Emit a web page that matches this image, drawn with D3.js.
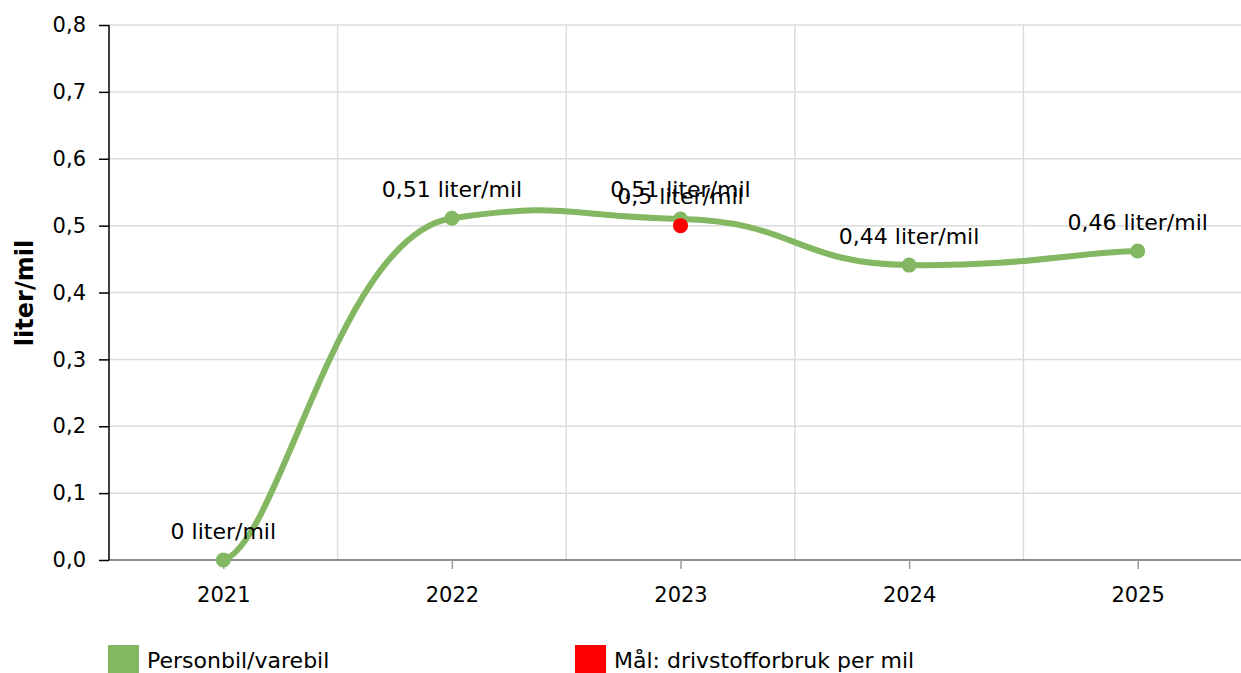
<!DOCTYPE html>
<html>
<head>
<meta charset="utf-8">
<script src="https://cdn.jsdelivr.net/npm/d3@7/dist/d3.min.js"></script>
<style>
  html, body { margin: 0; padding: 0; background: #fff; }
  svg { display: block; font-family: Verdana, "DejaVu Sans", sans-serif; }
</style>
</head>
<body>
<svg id="chart" width="1241" height="673"></svg>
<script>
// ---- data ----
const years = ["2021", "2022", "2023", "2024", "2025"];
const fuelValues = [0, 0.511, 0.51, 0.441, 0.462];
const fuelLabels = ["0 liter/mil", "0,51 liter/mil", "0,51 liter/mil", "0,44 liter/mil", "0,46 liter/mil"];
const targetYears = ["2023"];
const targetValues = [0.5];
const targetLabels = ["0,5 liter/mil"];
const yTicks = [0, 0.1, 0.2, 0.3, 0.4, 0.5, 0.6, 0.7, 0.8];
const seriesNames = ["Personbil/varebil", "Mål: drivstofforbruk per mil"];
const seriesColors = ["#84b761", "#ff0000"];

(function () {
// ---- layout ----
const W = 1241, H = 673;
const mLeft = 109, mRight = 1252, mTop = 25, mBottom = 560;
const svg = d3.select("#chart");

const x = d3.scalePoint().domain(years).range([mLeft, mRight]).padding(0.5);
const y = d3.scaleLinear().domain([0, 0.8]).range([mBottom, mTop]);
const step = x.step();

// grid
const grid = svg.append("g");
grid.selectAll("line.h").data(yTicks.slice(1)).enter().append("line")
  .attr("x1", mLeft).attr("x2", W)
  .attr("y1", d => y(d)).attr("y2", d => y(d))
  .attr("stroke", "#dcdcdc").attr("stroke-width", 1.5);
grid.selectAll("line.v").data(years.slice(1)).enter().append("line")
  .attr("x1", d => x(d) - step / 2).attr("x2", d => x(d) - step / 2)
  .attr("y1", mTop).attr("y2", mBottom)
  .attr("stroke", "#dcdcdc").attr("stroke-width", 1.5);

// x axis
const xAxis = d3.axisBottom(x).tickSize(9).tickPadding(18);
const gx = svg.append("g").attr("transform", `translate(0,${mBottom})`).call(xAxis);
gx.select(".domain").attr("stroke", "#666").attr("stroke-width", 1.5).attr("d", `M${mLeft},0H${W}`);
gx.selectAll(".tick line").attr("stroke", "#999").attr("stroke-width", 1.5);
gx.selectAll(".tick text").attr("font-size", 21).attr("fill", "#000")
  .attr("font-family", 'Verdana, "DejaVu Sans", sans-serif');

// y axis
const yAxis = d3.axisLeft(y).tickValues(yTicks).tickSize(10).tickPadding(13)
  .tickFormat(d => d3.format(".1f")(d).replace(".", ","));
const gy = svg.append("g").attr("transform", `translate(${mLeft},0)`).call(yAxis);
gy.select(".domain").attr("stroke", "#000").attr("stroke-width", 1.5).attr("d", `M0,${mTop}V${mBottom}`);
gy.selectAll(".tick line").attr("stroke", "#000").attr("stroke-width", 1.5);
gy.selectAll(".tick text").attr("font-size", 21).attr("fill", "#000")
  .attr("font-family", 'Verdana, "DejaVu Sans", sans-serif');

// y title
svg.append("text")
  .attr("transform", `translate(33,293) rotate(-90)`)
  .attr("text-anchor", "middle")
  .attr("font-size", 24).attr("font-weight", "bold").attr("fill", "#000")
  .text("liter/mil");

// custom smoothing curve (separate x / y tension)
function smoothCurve(context) {
  let pts = [];
  const bx = 4, by = 20;
  return {
    areaStart() {}, areaEnd() {},
    lineStart() { pts = []; },
    point(px, py) { pts.push([+px, +py]); },
    lineEnd() {
      const n = pts.length;
      if (!n) return;
      const P = i => pts[Math.max(0, Math.min(n - 1, i))];
      context.moveTo(pts[0][0], pts[0][1]);
      for (let i = 0; i < n - 1; i++) {
        const a = P(i - 1), b = P(i), c = P(i + 1), d = P(i + 2);
        context.bezierCurveTo(
          b[0] + (c[0] - a[0]) / bx, b[1] + (c[1] - a[1]) / by,
          c[0] - (d[0] - b[0]) / bx, c[1] - (d[1] - b[1]) / by,
          c[0], c[1]);
      }
    }
  };
}

const fuelData = years.map((yr, i) => ({ yr, v: fuelValues[i], label: fuelLabels[i] }));
const targetData = targetYears.map((yr, i) => ({ yr, v: targetValues[i], label: targetLabels[i] }));

const line = d3.line().x(d => x(d.yr)).y(d => y(d.v)).curve(smoothCurve);
svg.append("path").datum(fuelData)
  .attr("d", line).attr("fill", "none")
  .attr("stroke", seriesColors[0]).attr("stroke-width", 6)
  .attr("stroke-linejoin", "round").attr("stroke-linecap", "round");

svg.selectAll("circle.fuel").data(fuelData).enter().append("circle")
  .attr("cx", d => x(d.yr)).attr("cy", d => y(d.v)).attr("r", 7.5)
  .attr("fill", seriesColors[0]);

svg.selectAll("circle.target").data(targetData).enter().append("circle")
  .attr("cx", d => x(d.yr)).attr("cy", d => y(d.v)).attr("r", 7.5)
  .attr("fill", seriesColors[1]);

// value labels
const labels = fuelData.concat(targetData);
svg.selectAll("text.lbl").data(labels).enter().append("text")
  .attr("x", d => x(d.yr)).attr("y", d => y(d.v) - 21.5)
  .attr("text-anchor", "middle").attr("font-size", 22).attr("fill", "#000")
  .text(d => d.label);

// legend
const legX = [108, 575];
const leg = svg.selectAll("g.leg").data(seriesNames).enter().append("g")
  .attr("transform", (d, i) => `translate(${legX[i]},645)`);
leg.append("rect").attr("width", 31).attr("height", 30).attr("fill", (d, i) => seriesColors[i]);
leg.append("text").attr("x", 39).attr("y", 22.5).attr("font-size", 22).attr("fill", "#000").text(d => d);
})();
</script>
</body>
</html>
